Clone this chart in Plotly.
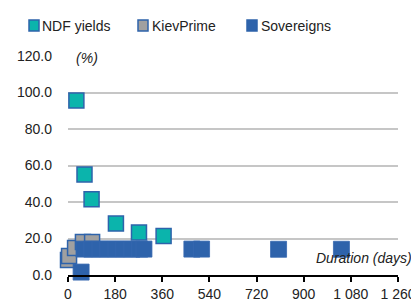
import plotly.graph_objects as go

# ---- data ----
ndf_days = [32, 63, 90, 183, 271, 365]
ndf_yield = [95.6, 55.1, 41.5, 28.2, 23.3, 21.4]

kiev_days = [0, 4, 27, 57, 92]
kiev_yield = [8.2, 10.4, 14.8, 18.1, 18.1]

sov_days = [50, 61, 91, 122, 152, 183, 213, 244, 274, 290, 473, 510, 804, 1044]
sov_yield = [1.6, 14.2, 14.2, 14.2, 14.2, 14.2, 14.2, 14.2, 14.2, 14.2, 14.2, 14.2, 14.1, 14.1]

x_tickvals = [0, 180, 360, 540, 720, 900, 1080, 1260]
x_ticktext = ["0", "180", "360", "540", "720", "900", "1 080", "1 260"]
y_tickvals = [0, 20, 40, 60, 80, 100, 120]
y_ticktext = ["0.0", "20.0", "40.0", "60.0", "80.0", "100.0", "120.0"]

series_names = ["NDF yields", "KievPrime", "Sovereigns"]

# ---- style ----
FONT = "Liberation Sans, Arial, sans-serif"
FS = 14
BLUE = "#2E63AB"
TEAL = "#0BB4AC"
GRAY = "#A0A0A0"
TXT = "#222222"

fig = go.Figure()
fig.add_trace(go.Scatter(x=ndf_days, y=ndf_yield, mode="markers", name=series_names[0],
                         marker=dict(symbol="square", size=15, color=TEAL,
                                     line=dict(color=BLUE, width=1.5)),
                         cliponaxis=False, showlegend=False))
fig.add_trace(go.Scatter(x=kiev_days, y=kiev_yield, mode="markers", name=series_names[1],
                         marker=dict(symbol="square", size=15, color=GRAY,
                                     line=dict(color=BLUE, width=1.5)),
                         cliponaxis=False, showlegend=False))
fig.add_trace(go.Scatter(x=sov_days, y=sov_yield, mode="markers", name=series_names[2],
                         marker=dict(symbol="square", size=16, color=BLUE,
                                     line=dict(color="#3668B0", width=0.8)),
                         cliponaxis=False, showlegend=False))

# page body has an 8px margin: figure is drawn at (8, 8) in the window
OFF = 8
W, H = 419 - OFF, 302 - OFF
ML, MR, MT, MB = 68 - OFF, 21, 56 - OFF, 27
pw, ph = W - ML - MR, H - MT - MB

def px2paper_x(px):
    return (px - OFF - ML) / pw

def px2paper_y(py):
    return (H - MB - (py - OFF)) / ph

legend_items = [
    (series_names[0], TEAL, BLUE, 29, 40),
    (series_names[1], GRAY, BLUE, 138, 150),
    (series_names[2], BLUE, BLUE, 247, 259),
]
shapes = []
annotations = []
for name, fill, edge, sx, tx in legend_items:
    shapes.append(dict(type="rect", xref="paper", yref="paper",
                       x0=px2paper_x(sx), x1=px2paper_x(sx + 10),
                       y0=px2paper_y(31), y1=px2paper_y(20),
                       fillcolor=fill, line=dict(color=edge, width=1.5)))
    annotations.append(dict(text=name, xref="paper", yref="paper",
                            x=px2paper_x(tx), y=px2paper_y(26),
                            xanchor="left", yanchor="middle", showarrow=False,
                            font=dict(family=FONT, size=FS, color=TXT)))

annotations.append(dict(text="<i>(%)</i>", xref="paper", yref="y", x=0, y=120,
                        xanchor="left", yanchor="middle", showarrow=False,
                        width=34, align="center", bgcolor="white", yshift=-2,
                        font=dict(family=FONT, size=FS, color=TXT)))
annotations.append(dict(text="<i>Duration (days)</i>", xref="paper", yref="y", x=1, y=9.3,
                        xanchor="right", yanchor="middle", showarrow=False, xshift=16,
                        font=dict(family=FONT, size=FS, color=TXT)))

fig.update_layout(
    width=W, height=H,
    margin=dict(l=ML, r=MR, t=MT, b=MB, pad=0, autoexpand=False),
    paper_bgcolor="white", plot_bgcolor="white",
    font=dict(family=FONT, size=FS, color=TXT),
    shapes=shapes, annotations=annotations,
    showlegend=False,
    xaxis=dict(range=[0, 1260], tickvals=x_tickvals, ticktext=x_ticktext,
               showgrid=False, zeroline=False, showline=True, linecolor="black",
               linewidth=2, ticks="outside", ticklen=5, tickcolor="black",
               tickwidth=1.5, automargin=False,
               tickfont=dict(family=FONT, size=FS, color=TXT)),
    yaxis=dict(range=[0, 120], tickvals=y_tickvals, ticktext=y_ticktext,
               showgrid=True, gridcolor="#C6C6C6", gridwidth=1.5, zeroline=False,
               showline=False, ticks="", ticklabelstandoff=15, automargin=False,
               tickfont=dict(family=FONT, size=FS, color=TXT)),
)
fig.write_html("out.html")
